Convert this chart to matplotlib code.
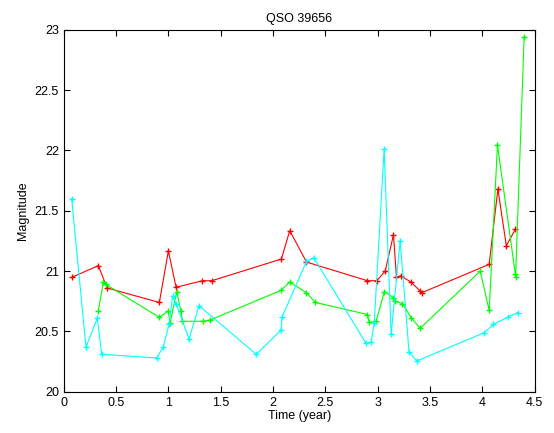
import matplotlib
matplotlib.use("Agg")
import matplotlib.pyplot as plt

plt.rcParams['font.family'] = ['Liberation Sans', 'DejaVu Sans']

# red band
red_t = [0.082, 0.331, 0.414, 0.914, 1.0, 1.074, 1.325, 1.415, 2.08, 2.16, 2.32,
         2.903, 2.992, 3.072, 3.151, 3.18, 3.22, 3.317, 3.406, 3.42,
         4.066, 4.149, 4.23, 4.316]
red_mag = [20.95, 21.045, 20.86, 20.74, 21.167, 20.866, 20.92, 20.92, 21.10, 21.335, 21.075,
           20.92, 20.92, 21.0, 21.30, 20.95, 20.96, 20.91, 20.835, 20.82,
           21.056, 21.68, 21.21, 21.347]

# green band
green_t = [0.331, 0.379, 0.40, 0.914, 1.0, 1.016, 1.08, 1.12, 1.134, 1.335, 1.40,
           2.077, 2.16, 2.32, 2.405, 2.903, 2.919, 2.986, 3.065, 3.151, 3.167,
           3.237, 3.32, 3.406, 3.98, 4.066, 4.145, 4.316, 4.318, 4.40]
green_mag = [20.67, 20.91, 20.89, 20.617, 20.67, 20.567, 20.83, 20.667, 20.584, 20.584, 20.595,
             20.84, 20.91, 20.82, 20.74, 20.64, 20.575, 20.586, 20.83, 20.78, 20.75,
             20.73, 20.614, 20.525, 21.0, 20.675, 22.045, 20.974, 20.95, 22.94]

# cyan band
cyan_t = [0.076, 0.213, 0.321, 0.363, 0.889, 0.952, 1.007, 1.04, 1.074, 1.198, 1.293,
          1.84, 2.077, 2.087, 2.32, 2.39, 2.89, 2.938, 2.967, 3.062, 3.129,
          3.215, 3.30, 3.375, 4.02, 4.107, 4.25, 4.337]
cyan_mag = [21.60, 20.37, 20.61, 20.31, 20.28, 20.373, 20.56, 20.79, 20.73, 20.437, 20.713,
            20.31, 20.51, 20.62, 21.08, 21.11, 20.40, 20.41, 20.567, 22.01, 20.476,
            21.25, 20.33, 20.255, 20.49, 20.56, 20.62, 20.655]

fig = plt.figure(figsize=(5.54, 4.33), dpi=100)
ax = fig.add_axes([0.115, 0.0954, 0.85, 0.8356])

ax.plot(red_t, red_mag, '+-', color=(1, 0, 0), linewidth=0.8, markersize=5)
ax.plot(green_t, green_mag, '+-', color=(0, 1, 0), linewidth=0.8, markersize=5)
ax.plot(cyan_t, cyan_mag, '+-', color=(0, 1, 1), linewidth=0.8, markersize=5)

ax.set_xlim(0, 4.5)
ax.set_ylim(20, 23)
ax.set_xticks([0, 0.5, 1, 1.5, 2, 2.5, 3, 3.5, 4, 4.5])
ax.set_xticklabels(['0', '0.5', '1', '1.5', '2', '2.5', '3', '3.5', '4', '4.5'])
ax.set_yticks([20, 20.5, 21, 21.5, 22, 22.5, 23])
ax.set_yticklabels(['20', '20.5', '21', '21.5', '22', '22.5', '23'])
ax.tick_params(direction='in', top=True, right=True, labelsize=9, length=4, width=0.8)
for s in ax.spines.values():
    s.set_linewidth(0.8)

ax.set_xlabel("Time (year)", fontsize=9, labelpad=1)
ax.set_ylabel("Magnitude", fontsize=9)
ax.set_title("QSO 39656", fontsize=9)

fig.savefig("out.png", dpi=100)
